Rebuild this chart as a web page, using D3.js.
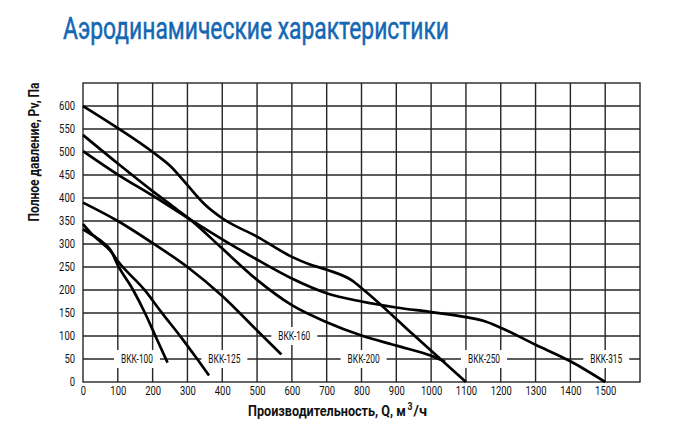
<!DOCTYPE html>
<html><head><meta charset="utf-8">
<script src="https://cdn.jsdelivr.net/npm/d3@7"></script>
<style>
body{margin:0;background:#fff}
svg text{font-family:"Roboto","Open Sans",sans-serif}
</style>
</head><body>
<svg id="chart" width="677" height="447"></svg>
<script>
// ---- data ----
const titleText = "Аэродинамические характеристики";
const yTitle = "Полное давление, Pv, Па";
const xTitleParts = ["Производительность, Q, м", "3", "/ч"];
const xTicks = [0,100,200,300,400,500,600,700,800,900,1000,1100,1200,1300,1400,1500];
const yTicks = [0,50,100,150,200,250,300,350,400,450,500,550,600];
const xMax = 1600, yMax = 650;

const seriesNames = ["ВКК-100","ВКК-125","ВКК-160","ВКК-200","ВКК-250","ВКК-315"];
const bkk100 = [[0,332],[30,318],[55,305],[80,286],[100,254],[144,200],[178,150],[208,100],[243,42]];
const bkk125 = [[0,343],[25,322],[50,305],[80,284],[100,263],[178,199],[225,152],[283,96],[326,52],[362,14]];
const bkk160 = [[0,390],[100,350],[200,302],[300,250],[400,187],[500,112],[570,60]];
const bkk200 = [[0,537],[100,475],[200,415],[270,375],[310,352],[400,290],[500,222],[600,167],[700,130],[800,101],[900,79],[1000,57],[1040,44]];
const bkk250 = [[0,600],[100,552],[200,500],[250,470],[300,428],[350,386],[400,356],[500,316],[600,272],[650,256],[700,244],[770,222],[810,198],[950,102],[1100,0]];
const bkk315 = [[0,502],[100,451],[200,405],[300,357],[400,310],[500,266],[600,225],[700,193],[800,175],[900,162],[1000,152],[1100,141],[1150,133],[1200,118],[1300,81],[1400,45],[1500,0]];
const seriesData = [bkk100,bkk125,bkk160,bkk200,bkk250,bkk315];
// label anchors (data units)
const labelQ = [155,406,607,806,1152,1503];
const labelP = [50,50,100,50,50,50];

// ---- layout ----
const svg = d3.select("#chart");
const x = d3.scaleLinear().domain([0,xMax]).range([83,640]);
const y = d3.scaleLinear().domain([0,yMax]).range([382,83]);
const digitW = 5.3;

svg.append("text").attr("x",63).attr("y",39)
  .attr("fill","#1467b3").attr("stroke","#1467b3").attr("stroke-width",0.5)
  .attr("font-size",32)
  .attr("textLength",386).attr("lengthAdjust","spacingAndGlyphs")
  .text(titleText);

const grid = svg.append("g").attr("stroke","#262626").attr("stroke-width",1.4);
grid.selectAll("line.v").data(xTicks.slice(1)).join("line").attr("class","v")
  .attr("x1",d=>x(d)).attr("x2",d=>x(d)).attr("y1",y(0)).attr("y2",y(yMax));
grid.selectAll("line.h").data(yTicks.slice(1)).join("line").attr("class","h")
  .attr("x1",x(0)).attr("x2",x(xMax)).attr("y1",d=>y(d)).attr("y2",d=>y(d));
grid.append("rect").attr("x",x(0)).attr("y",y(yMax))
  .attr("width",x(xMax)-x(0)).attr("height",y(0)-y(yMax)).attr("fill","none");

// axes tick labels
const fmt = d3.format("d");
const xAxis = d3.axisBottom(x).tickValues(xTicks).tickFormat(fmt).tickSize(0).tickPadding(4);
const gx = svg.append("g").attr("transform",`translate(0,${y(0)})`).call(xAxis);
gx.select(".domain").remove();
gx.selectAll("text").attr("font-size",12).attr("fill","#111").attr("font-family",null)
  .attr("textLength",d=>fmt(d).length*digitW).attr("lengthAdjust","spacingAndGlyphs");
const yAxis = d3.axisLeft(y).tickValues(yTicks).tickFormat(fmt).tickSize(0).tickPadding(8);
const gy = svg.append("g").attr("transform",`translate(${x(0)},0)`).call(yAxis);
gy.select(".domain").remove();
gy.selectAll("text").attr("font-size",12).attr("fill","#111").attr("font-family",null)
  .attr("textLength",d=>fmt(d).length*digitW).attr("lengthAdjust","spacingAndGlyphs");

// labels
const lab = svg.append("g");
seriesNames.forEach((n,i)=>{
  const g = lab.append("g").attr("transform",`translate(${x(labelQ[i])},${y(labelP[i])})`);
  g.append("rect").attr("x",-23).attr("y",-9).attr("width",46).attr("height",18).attr("fill","#fff");
  g.append("text").attr("text-anchor","middle").attr("dy","0.36em")
    .attr("font-size",12).attr("fill","#111")
    .attr("textLength",32).attr("lengthAdjust","spacingAndGlyphs").text(n);
});

// curves
const line = d3.line().x(d=>x(d[0])).y(d=>y(d[1])).curve(d3.curveMonotoneX);
svg.append("g").selectAll("path").data(seriesData).join("path")
  .attr("d",line).attr("fill","none").attr("stroke","#000").attr("stroke-width",2.7);

// axis titles
svg.append("text").attr("transform",`translate(39,152) rotate(-90)`)
  .attr("text-anchor","middle").attr("font-size",14).attr("font-weight","bold").attr("fill","#111")
  .attr("textLength",139).attr("lengthAdjust","spacingAndGlyphs").text(yTitle);

// x title: horizontally scaled pieces (scale keeps real bounding boxes)
function squeezed(str, x0, y0, size, width){
  const t = svg.append("text").attr("font-size",size).attr("font-weight","bold").attr("fill","#111").text(str);
  const w = t.node().getComputedTextLength();
  t.attr("transform",`translate(${x0},${y0}) scale(${width/w},1)`);
}
squeezed(xTitleParts[0], 248, 416, 14, 158);
squeezed(xTitleParts[1], 407.5, 410, 10, 5);
squeezed(xTitleParts[2], 413.5, 416, 14, 13.5);
</script>
</body></html>
